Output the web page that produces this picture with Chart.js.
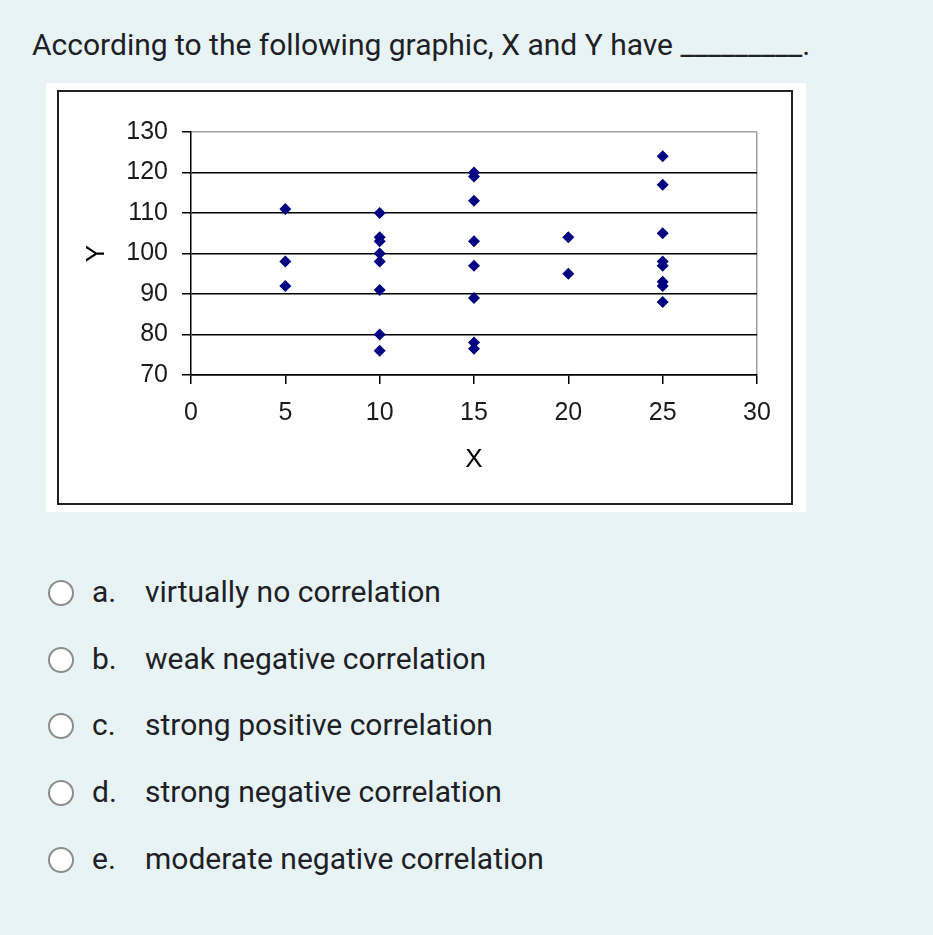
<!DOCTYPE html>
<html>
<head>
<meta charset="utf-8">
<script src="https://cdn.jsdelivr.net/npm/chart.js@4"></script>
<style>
  body { margin: 0; background: #e7f3f5; font-family: Roboto, sans-serif; color: #1d2125; width: 933px; height: 935px; overflow: hidden; position: relative; }
  #question { position: absolute; left: 32px; top: 26px; font-size: 30px; line-height: 38px; white-space: nowrap; }
  #picture { position: absolute; left: 46px; top: 83px; width: 760px; height: 429px; background: #fff; }
  #frame { position: absolute; left: 11px; top: 7px; width: 732px; height: 411px; border: 2px solid #222; }
  .opt { position: absolute; left: 0; height: 40px; width: 700px; }
  .opt .radio { position: absolute; left: 48px; top: 7px; width: 26px; height: 26px; box-sizing: border-box; border: 2.5px solid #8c8c8c; border-radius: 50%; background: #fff; }
  .opt .letter { position: absolute; left: 92px; top: 0; font-size: 30px; line-height: 38px; }
  .opt .text { position: absolute; left: 145px; top: 0; font-size: 30px; line-height: 38px; white-space: nowrap; }
</style>
</head>
<body>
<div id="question">According to the following graphic, X and Y have _________.</div>
<div id="picture">
  <div id="frame"><canvas id="scatter" width="732" height="411"></canvas></div>
</div>
<div id="options"></div>

<script>
// values
var xValues = [5, 5, 5,
               10, 10, 10, 10, 10, 10, 10, 10,
               15, 15, 15, 15, 15, 15, 15, 15,
               20, 20,
               25, 25, 25, 25, 25, 25, 25, 25];
var yValues = [111, 98, 92,
               110, 104, 103, 100, 98, 91, 80, 76,
               120, 119, 113, 103, 97, 89, 78, 76.5,
               104, 95,
               124, 117, 105, 98, 97, 93, 92, 88];
var xTicks = [0, 5, 10, 15, 20, 25, 30];
var yTicks = [70, 80, 90, 100, 110, 120, 130];

var letters = ['a.', 'b.', 'c.', 'd.', 'e.'];
var answers = ['virtually no correlation', 'weak negative correlation', 'strong positive correlation',
               'strong negative correlation', 'moderate negative correlation'];

// answer list
var box = document.getElementById('options');
for (var i = 0; i < answers.length; i++) {
    var row = document.createElement('div');
    row.className = 'opt';
    row.style.top = (573 + i * 66.7) + 'px';
    row.innerHTML = '<div class="radio"></div><span class="letter">' + letters[i] +
        '</span><span class="text">' + answers[i] + '</span>';
    box.appendChild(row);
}

var points = xValues.map(function (x, i) { return { x: x, y: yValues[i] }; });
var tickFont = { family: "'Liberation Sans', Arial, sans-serif", size: 25 };

var ctx = document.getElementById('scatter').getContext('2d');
var chart = new Chart(ctx, {
    type: 'scatter',
    data: {
        datasets: [{
            data: points,
            pointStyle: 'rectRot',
            pointRadius: 6,
            pointBorderWidth: 0,
            backgroundColor: '#000080',
            borderColor: '#000080'
        }]
    },
    options: {
        responsive: false,
        animation: false,
        layout: { padding: { top: 40, right: 34, left: 0, bottom: 0 } },
        plugins: { legend: { display: false }, tooltip: { enabled: false } },
        scales: {
            x: {
                type: 'linear',
                min: xTicks[0],
                max: xTicks[xTicks.length - 1],
                afterBuildTicks: function (s) { s.ticks = xTicks.map(function (v) { return { value: v }; }); },
                afterFit: function (s) { s.height = 128; },
                ticks: { font: tickFont, color: '#1c1c1c', padding: 14, maxRotation: 0 },
                grid: {
                    color: function (c) { return c.tick && c.tick.value === 30 ? '#a0a0a0' : 'rgba(0,0,0,0)'; },
                    tickColor: '#000',
                    tickLength: 9,
                    lineWidth: 1.5
                },
                border: { color: '#000', width: 1.5 },
                title: { display: true, text: 'X', color: '#000', font: { family: "'Liberation Sans', Arial, sans-serif", size: 26 }, padding: { top: 0, bottom: 28 } }
            },
            y: {
                min: yTicks[0],
                max: yTicks[yTicks.length - 1],
                afterBuildTicks: function (s) { s.ticks = yTicks.map(function (v) { return { value: v }; }); },
                afterFit: function (s) { s.width = 132; },
                ticks: { font: tickFont, color: '#1c1c1c', padding: 14 },
                grid: {
                    color: function (c) { return c.tick && c.tick.value === 130 ? '#a0a0a0' : '#000'; },
                    tickColor: '#000',
                    tickLength: 9,
                    lineWidth: 1.5
                },
                border: { color: '#000', width: 1.5 },
                title: { display: true, text: 'Y', color: '#000', font: { family: "'Liberation Sans', Arial, sans-serif", size: 26 }, padding: { top: 22, bottom: 0 } }
            }
        }
    }
});
</script>
</body>
</html>
